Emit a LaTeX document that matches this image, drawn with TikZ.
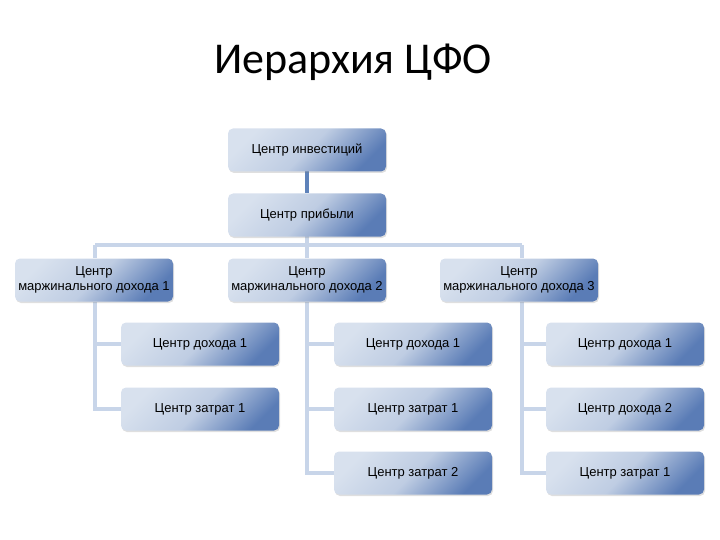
\documentclass[tikz,border=0pt]{standalone}
\usepackage{fontspec}
\setmainfont{Liberation Sans}
\newfontfamily\titlefont{Carlito}
\usetikzlibrary{shadows}
\definecolor{boxlight}{HTML}{D8E1EE}
\definecolor{boxdark}{HTML}{5A7CB6}
\definecolor{linelight}{HTML}{C8D5E9}
\definecolor{linedark}{HTML}{5E82BA}
\begin{document}
\begin{tikzpicture}[x=1pt,y=-1pt,
  box/.style={rounded corners=5pt, minimum width=158pt, minimum height=43pt, align=center, inner xsep=1pt,
    top color=boxlight, bottom color=boxdark, middle color=boxlight!80!boxdark, shading angle=45,
    font=\fontsize{13}{15}\selectfont, drop shadow={opacity=0.25, shadow xshift=1pt, shadow yshift=-1.5pt}},
  conn/.style={draw=linelight, line width=4.5pt}]
\useasboundingbox (0,0) rectangle (720,540);
\node[font=\titlefont\fontsize{44}{48}\selectfont] (title) at (353,62) {Иерархия ЦФО};
\draw[draw=linedark, line width=4.5pt] (307,171) -- (307,193);
\coordinate (b1) at (95,245);
\coordinate (b3) at (522,245);
\draw[conn] (307,236) -- (307,245);
\draw[conn] (b1) -- (b3);
\draw[conn] (b1) -- (95,258);
\draw[conn] (307,245) -- (307,258);
\draw[conn] (b3) -- (522,258);
\draw[conn] (95,302) |- (121,409);
\draw[conn] (95,344) -- (121,344);
\draw[conn] (307,302) |- (334,473);
\draw[conn] (307,344) -- (334,344);
\draw[conn] (307,409) -- (334,409);
\draw[conn] (522,302) |- (546,473);
\draw[conn] (522,344) -- (546,344);
\draw[conn] (522,409) -- (546,409);
\node[box] (inv) at (307,150) {Центр инвестиций};
\node[box] (prof) at (307,215) {Центр прибыли};
\node[box] (m1) at (94,280) {Центр\\маржинального дохода 1};
\node[box] (m2) at (307,280) {Центр\\маржинального дохода 2};
\node[box] (m3) at (519,280) {Центр\\маржинального дохода 3};
\node[box] (a1) at (200,344) {Центр дохода 1};
\node[box] (a2) at (200,409) {Центр затрат 1};
\node[box] (b1n) at (413,344) {Центр дохода 1};
\node[box] (b2n) at (413,409) {Центр затрат 1};
\node[box] (b3n) at (413,473) {Центр затрат 2};
\node[box] (c1) at (625,344) {Центр дохода 1};
\node[box] (c2) at (625,409) {Центр дохода 2};
\node[box] (c3) at (625,473) {Центр затрат 1};
\end{tikzpicture}
\end{document}
